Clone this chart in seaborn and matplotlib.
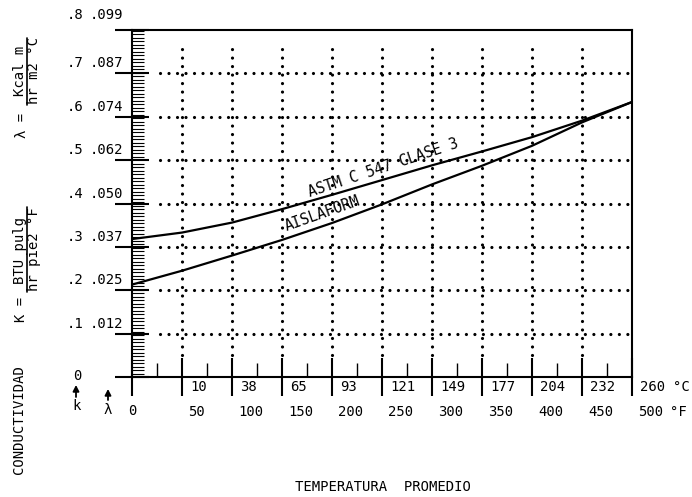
import numpy as np
import pandas as pd
import matplotlib
matplotlib.use("Agg")
import matplotlib.pyplot as plt
from matplotlib.lines import Line2D
import seaborn as sns

# ---------------- data ----------------
temp_f = [0, 50, 100, 150, 200, 250, 300, 350, 400, 450, 500]
astm_c547 = [0.318, 0.333, 0.356, 0.387, 0.420, 0.454, 0.488, 0.520, 0.553, 0.591, 0.634]
aislaform = [0.213, 0.245, 0.280, 0.316, 0.355, 0.398, 0.444, 0.487, 0.533, 0.587, 0.634]

k_ticks = [0.1, 0.2, 0.3, 0.4, 0.5, 0.6, 0.7, 0.8]
k_labels = [".1", ".2", ".3", ".4", ".5", ".6", ".7", ".8"]
lam_labels = [".012", ".025", ".037", ".050", ".062", ".074", ".087", ".099"]
f_ticks = [0, 50, 100, 150, 200, 250, 300, 350, 400, 450, 500]
f_labels = ["0", "50", "100", "150", "200", "250", "300", "350", "400", "450", "500"]
c_labels = ["10", "38", "65", "93", "121", "149", "177", "204", "232", "260"]

# ---------------- style ----------------
sns.set_style("ticks")
plt.rcParams["font.family"] = ["DejaVu Sans Mono", "DejaVu Sans"]
plt.rcParams["font.size"] = 10
plt.rcParams["text.color"] = "black"

W, H = 692, 497
fig = plt.figure(figsize=(W / 100, H / 100), dpi=100)
ax = fig.add_axes([132 / W, 120 / H, 500 / W, 347 / H])

df = pd.DataFrame({
    "T": temp_f * 2,
    "K": astm_c547 + aislaform,
    "mat": ["ASTM C 547 CLASE 3"] * len(temp_f) + ["AISLAFORM"] * len(temp_f),
})
sns.lineplot(data=df, x="T", y="K", hue="mat", palette=["black", "black"],
             linewidth=1.6, legend=False, ax=ax, zorder=4)

ax.set_xlim(0, 500)
ax.set_ylim(0, 0.8)
ax.set_xlabel("")
ax.set_ylabel("")

# dotted grid
dot = dict(color="black", lw=2.3, ls=(0, (0.01, 2.65)), dash_capstyle="round", zorder=2)
for x in f_ticks[1:-1]:
    ax.plot([x, x], [0.051, 0.772], **dot)
for y in k_ticks[:-1]:
    ax.plot([28, 500], [y, y], **dot)

# ticks
ax.set_xticks(f_ticks)
ax.set_xticks(np.arange(25, 500, 50), minor=True)
ax.set_yticks([0] + k_ticks)
ax.set_yticks(np.arange(1, 100) * 0.001 / 0.124, minor=True)
ax.tick_params(axis="x", which="major", direction="inout", length=27, width=1.5,
               labelbottom=False, color="black")
ax.tick_params(axis="x", which="minor", direction="in", length=10, width=1.0, color="black")
ax.tick_params(axis="y", which="major", direction="inout", length=24, width=1.5,
               labelleft=False, color="black")
ax.tick_params(axis="y", which="minor", direction="in", length=8.6, width=0.8, color="black")
for s in ax.spines.values():
    s.set_visible(True)
    s.set_linewidth(1.5)
    s.set_color("black")

# y tick labels (two scales)
for y, kl, ll in zip(k_ticks, k_labels, lam_labels):
    off = 15 if y == 0.8 else 10
    ax.annotate(kl, xy=(0, y), xycoords=("axes fraction", "data"), xytext=(-49, off),
                textcoords="offset pixels", ha="right", va="center", fontsize=10)
    ax.annotate(ll, xy=(0, y), xycoords=("axes fraction", "data"), xytext=(-9, off),
                textcoords="offset pixels", ha="right", va="center", fontsize=10)
ax.annotate("0", xy=(0, 0), xycoords=("axes fraction", "data"), xytext=(-55, 1),
            textcoords="offset pixels", ha="center", va="center", fontsize=10)
ax.annotate("k", xy=(0, 0), xycoords=("axes fraction", "data"), xytext=(-55, -29),
            textcoords="offset pixels", ha="center", va="center", fontsize=10)
ax.annotate("λ", xy=(0, 0), xycoords=("axes fraction", "data"), xytext=(-24, -33),
            textcoords="offset pixels", ha="center", va="center", fontsize=10)

# small arrows pointing up to the zero labels
arr = dict(arrowstyle="-|>,head_length=0.35,head_width=0.18", color="black", lw=1.3,
           shrinkA=0, shrinkB=0)
for dx, y0, y1 in [(-56, -20, -8), (-24, -23, -12)]:
    ax.annotate("", xy=(dx, y1), xycoords="axes pixels",
                xytext=(dx, y0), textcoords="axes pixels", arrowprops=arr,
                annotation_clip=False)

# x tick labels (two scales)
for x, cl in zip(f_ticks[1:], c_labels):
    ax.annotate(cl, xy=(x, 0), xycoords=("data", "axes fraction"), xytext=(8, -10),
                textcoords="offset pixels", ha="left", va="center", fontsize=10)
for x, fl in zip(f_ticks, f_labels):
    if x == 0:
        ax.annotate(fl, xy=(x, 0), xycoords=("data", "axes fraction"), xytext=(0, -34),
                    textcoords="offset pixels", ha="center", va="center", fontsize=10)
    else:
        ax.annotate(fl, xy=(x, 0), xycoords=("data", "axes fraction"), xytext=(6, -35),
                    textcoords="offset pixels", ha="left", va="center", fontsize=10)
ax.annotate("°C", xy=(500, 0), xycoords=("data", "axes fraction"), xytext=(41, -10),
            textcoords="offset pixels", ha="left", va="center", fontsize=10)
ax.annotate("°F", xy=(500, 0), xycoords=("data", "axes fraction"), xytext=(38, -35),
            textcoords="offset pixels", ha="left", va="center", fontsize=10)

# curve labels
ax.text(251, 0.482, "ASTM C 547 CLASE 3", rotation=18.4, rotation_mode="anchor",
        ha="center", va="center", fontsize=10.5, zorder=5)
ax.text(190, 0.376, "AISLAFORM", rotation=19.5, rotation_mode="anchor",
        ha="center", va="center", fontsize=10.5, zorder=5)

# axis titles
def ft(px, py, s, **kw):
    fig.text(px / W, 1 - py / H, s, ha="center", va="center", **kw)

ft(383, 487, "TEMPERATURA  PROMEDIO", fontsize=10)
ft(19, 420, "CONDUCTIVIDAD", rotation=90, fontsize=10)

ft(22, 125, "λ =", rotation=90, fontsize=10)
ft(20, 71, "Kcal m", rotation=90, fontsize=10)
ft(34, 71, "hr m2 °C", rotation=90, fontsize=10)
fig.add_artist(Line2D([27 / W, 27 / W], [1 - 38 / H, 1 - 105 / H], color="black", lw=1.2))

ft(21, 309, "K =", rotation=90, fontsize=10)
ft(20, 250, "BTU pulg", rotation=90, fontsize=10)
ft(34, 249, "hr pie2 °F", rotation=90, fontsize=10)
fig.add_artist(Line2D([27 / W, 27 / W], [1 - 207 / H, 1 - 292 / H], color="black", lw=1.2))

fig.savefig("out.png", dpi=100, facecolor="white")
